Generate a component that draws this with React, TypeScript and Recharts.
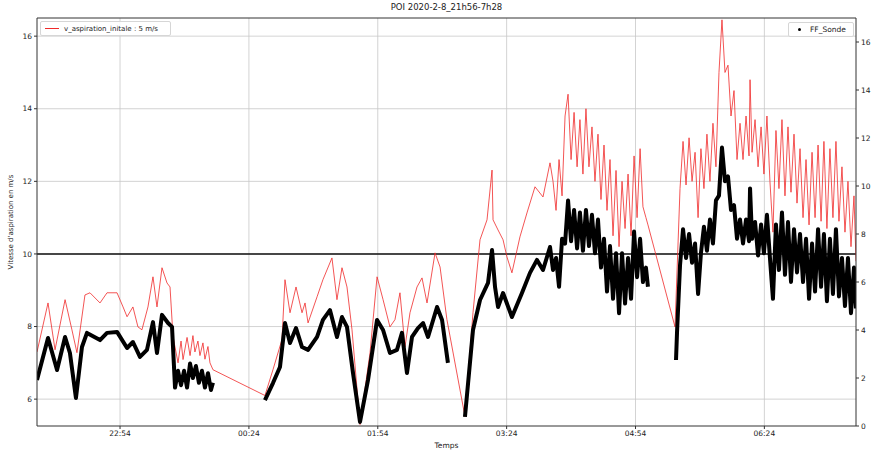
import React from "react";
import {
  ComposedChart,
  Line,
  XAxis,
  YAxis,
  CartesianGrid,
  ReferenceLine,
} from "recharts";

// minutes counted from 21:56
const START_MINUTES = 21 * 60 + 56;
const timeTicks = [58, 148, 238, 328, 418, 508];
const speedTicks = [6, 8, 10, 12, 14, 16];
const sondeTicks = [0, 2, 4, 6, 8, 10, 12, 14, 16];
const speedThreshold = 10;

// v_aspiration_initale (left axis, m/s)
const aspiration: [number, number][] = [
  [0, 7.3], [7.7, 8.65], [12.6, 7.36], [19.6, 8.74], [24.4, 7.91], [27.9, 7.28],
  [33.5, 8.87], [37, 8.93], [44, 8.65], [48.9, 8.93], [55.9, 8.93], [60.1, 8.54],
  [62.9, 8.27], [67, 8.54], [70.5, 7.99], [73.3, 7.91], [77.5, 8.54], [81, 9.37],
  [83.8, 8.54], [87.3, 9.62], [90.8, 9.2], [92.9, 9.09], [95, 7.72], [98.5, 7.0],
  [100.6, 7.6], [102, 7.09], [104.8, 7.7], [106.9, 7.2], [108.9, 7.75],
  [110.3, 7.3], [112.4, 7.6], [113.8, 7.2], [115.9, 7.55], [117.3, 7.1],
  [119.4, 7.45], [120.8, 7.0], [122.9, 6.81],
  [159.2, 6.1], [164.8, 6.81], [171.1, 7.64], [173.2, 9.29], [176.7, 8.38],
  [180.9, 9.09], [185.1, 8.38], [187.2, 8.65], [189.3, 8.1], [195.6, 8.82],
  [199.7, 9.29], [206, 9.89], [209.5, 8.74], [213, 9.62], [216.5, 9.09], [220, 7.91],
  [225.6, 5.3], [232.6, 7.28], [237.5, 9.37], [241.7, 8.74], [246.5, 7.99],
  [250, 8.19], [253.5, 8.93], [257, 7.44], [260.5, 8.38], [265.4, 9.09],
  [268.9, 9.34], [272.4, 8.65], [278, 10.03], [281.5, 9.64], [286.3, 8.19],
  [298.9, 5.52], [304.5, 8.38], [309.4, 10.39], [314.3, 10.94], [317.8, 12.31],
  [318.5, 10.94], [322, 10.66], [325.5, 10.39], [328.2, 9.92], [331.7, 9.48],
  [337.3, 10.47], [342.2, 11.13], [347.8, 11.85], [353.4, 11.57], [358.3, 12.51],
  [360.4, 12.0], [362.5, 11.2], [364.6, 12.6], [366.7, 11.6], [368.8, 13.8],
  [370.9, 14.4], [373.0, 12.6], [375.1, 13.9], [377.2, 12.4], [379.2, 13.7],
  [381.3, 12.2], [383.4, 14.0], [385.5, 12.4], [387.6, 13.5], [389.7, 12.0],
  [391.8, 13.3], [393.9, 11.5], [396.0, 13.0], [398.1, 11.2], [400.2, 12.6],
  [402.3, 10.5], [404.4, 12.3], [406.5, 10.2], [408.6, 12.0], [410.7, 10.7],
  [412.8, 12.2], [414.9, 10.5], [417.0, 12.7], [419.1, 11.0], [421.2, 12.9],
  [423.2, 11.3], [425.3, 11.0], [426.7, 10.8],
  [445.6, 7.99], [449.1, 11.8], [451.2, 13.1], [453.3, 11.9], [455.4, 13.2],
  [457.5, 12.0], [459.6, 12.8], [461.7, 11.0], [463.7, 12.9], [465.8, 11.8],
  [467.9, 13.3], [470.0, 12.0], [472.1, 13.6], [474.2, 12.4], [476.3, 15.0],
  [478.4, 16.45], [480.5, 15.0], [482.6, 15.2], [484.7, 13.8], [486.8, 14.5],
  [488.9, 12.6], [491.0, 13.6], [493.1, 12.6], [495.2, 13.8], [497.3, 12.7],
  [498.0, 14.8], [499.4, 12.8], [501.5, 13.7], [503.6, 12.4], [505.7, 13.5],
  [507.7, 12.2], [509.8, 13.8], [511.9, 12.0], [514.0, 10.6], [516.1, 13.4],
  [518.2, 11.8], [520.3, 13.7], [522.4, 11.6], [524.5, 13.5], [526.6, 11.7],
  [528.7, 13.3], [530.8, 11.4], [532.9, 12.9], [535.0, 11.0], [537.1, 12.6],
  [539.2, 10.8], [541.3, 12.8], [543.4, 11.0], [545.5, 13.0], [547.6, 10.9],
  [549.6, 13.1], [551.7, 10.7], [553.8, 12.9], [555.9, 11.0], [558.0, 13.1],
  [560.1, 10.9], [562.2, 12.4], [564.3, 10.6], [566.4, 12.0], [568.5, 10.2],
  [570.6, 11.6], [572, 9.8],
];

// FF_Sonde (right axis), null = no measurement
const sonde: [number, number | null][] = [
  [0, 1.92], [7.7, 3.67], [14, 2.33], [19.6, 3.71], [23, 3.04], [27.2, 1.17],
  [31.4, 3.29], [34.9, 3.88], [44, 3.58], [48.9, 3.88], [55.9, 3.92], [62.9, 3.25],
  [67, 3.5], [71.9, 2.88], [76.8, 3.17], [81, 4.33], [83.8, 3.04], [87.3, 4.63],
  [91.5, 4.29], [94.3, 4.13], [96.4, 1.6], [98.5, 2.3], [100.6, 1.7], [102.7, 2.3],
  [104.8, 1.6], [106.9, 2.6], [108.9, 2.0], [111.0, 2.5], [113.1, 1.8],
  [115.2, 2.3], [117.3, 1.6], [119.4, 2.2], [121.5, 1.5], [122.9, 1.8],
  [140, null],
  [159.2, 1.08], [164.8, 1.79], [169.7, 2.46], [173.2, 4.29], [176.7, 3.46],
  [180.9, 4.08], [185.1, 3.29], [189.3, 3.17], [195.6, 3.71], [199.7, 4.42],
  [204.6, 4.83], [209.5, 3.71], [213, 4.54], [216.5, 4.13], [220.7, 2.21],
  [225.6, 0.17], [231.2, 1.92], [237.5, 4.42], [241.7, 4.0], [246.5, 3.04],
  [251.4, 3.17], [254.9, 3.88], [258.4, 2.21], [261.9, 3.71], [266.1, 4.08],
  [269.6, 4.29], [273.1, 3.71], [279.4, 4.96], [282.9, 4.42], [287, 2.63],
  [292, null],
  [298.9, 0.38], [304.5, 4.0], [309.4, 5.25], [315, 5.96], [317.8, 7.33],
  [319.9, 5.79], [322, 4.96], [325.5, 5.54], [331.7, 4.54], [338.7, 5.54],
  [344.3, 6.38], [349.2, 6.92], [353.4, 6.5], [358.3, 7.46],
  [360.4, 6.5], [362.5, 7.0], [364.6, 5.8], [366.7, 7.8], [368.8, 7.6],
  [370.9, 9.4], [373.0, 7.7], [375.1, 9.0], [377.2, 7.4], [379.2, 8.9],
  [381.3, 7.3], [383.4, 9.0], [385.5, 7.5], [387.6, 8.8], [389.7, 7.2],
  [391.8, 8.6], [393.9, 6.6], [396.0, 7.8], [398.1, 5.6], [400.2, 7.5],
  [402.3, 5.3], [404.4, 7.2], [406.5, 4.7], [408.6, 7.2], [410.7, 5.1],
  [412.8, 7.0], [414.9, 5.3], [417.0, 8.1], [419.1, 6.2], [421.2, 7.8],
  [423.2, 6.0], [425.3, 6.6], [426.7, 5.8],
  [435, null],
  [446.3, 2.75], [447.0, 3.9], [449.1, 6.7], [451.2, 8.2], [453.3, 7.0],
  [455.4, 8.0], [457.5, 6.8], [459.6, 7.6], [461.7, 5.5], [463.7, 7.2],
  [465.8, 8.3], [467.9, 7.3], [470.0, 8.6], [472.1, 7.6], [474.2, 9.4],
  [476.3, 9.6], [478.4, 11.6], [480.5, 10.2], [482.6, 10.4], [484.7, 9.0],
  [486.8, 9.2], [488.9, 7.8], [491.0, 8.6], [493.1, 7.6], [495.2, 8.6],
  [497.3, 7.7], [498.0, 9.9], [499.4, 7.8], [501.5, 8.5], [503.6, 7.1],
  [505.7, 8.4], [507.7, 7.2], [509.8, 8.8], [511.9, 7.0], [514.0, 5.3],
  [516.1, 8.4], [518.2, 6.5], [520.3, 8.9], [522.4, 6.3], [524.5, 8.5],
  [526.6, 6.0], [528.7, 8.2], [530.8, 6.4], [532.9, 8.0], [535.0, 6.0],
  [537.1, 7.8], [539.2, 5.3], [541.3, 7.6], [543.4, 5.6], [545.5, 8.2],
  [547.6, 5.8], [549.6, 8.0], [551.7, 5.2], [553.8, 7.8], [555.9, 5.5],
  [558.0, 8.2], [560.1, 5.4], [562.2, 7.0], [564.3, 5.0], [566.4, 7.0],
  [568.5, 4.7], [570.6, 6.6], [572, 4.9],
];

const aspirationData = aspiration.map(([t, v]) => ({ t, v }));
const sondeData = sonde.map(([t, ff]) => ({ t, ff }));

const FONT = "DejaVu Sans";
const tickStyle = { fontSize: 7.5, fill: "#222", fontFamily: FONT };

function formatTime(m: number) {
  const total = START_MINUTES + m;
  const h = Math.floor(total / 60) % 24;
  const mm = Math.round(total % 60);
  return `${String(h).padStart(2, "0")}:${String(mm).padStart(2, "0")}`;
}

export default function App() {
  return (
    <div
      style={{
        position: "absolute",
        left: 0,
        top: 0,
        width: 873,
        height: 450,
        background: "#fff",
        fontFamily: FONT,
      }}
    >
      <div
        style={{
          position: "absolute",
          top: 2,
          left: 37,
          width: 819,
          textAlign: "center",
          fontSize: 8.5,
          color: "#222",
        }}
      >
        POI 2020-2-8_21h56-7h28
      </div>
      <ComposedChart
        width={873}
        height={450}
        margin={{ top: 18, right: 0, left: 0, bottom: 0 }}
      >
        <CartesianGrid
          yAxisId="left"
          stroke="#c8c8c8"
          strokeWidth={0.8}
          horizontalValues={speedTicks}
          verticalValues={timeTicks}
        />
        <XAxis
          dataKey="t"
          type="number"
          domain={[0, 572]}
          ticks={timeTicks}
          tickFormatter={formatTime}
          allowDataOverflow
          height={24}
          tickSize={3}
          tick={tickStyle}
          stroke="#333"
          label={{
            value: "Temps",
            position: "insideBottom",
            offset: 2,
            style: { fontSize: 7.5, fill: "#222", fontFamily: FONT },
          }}
        />
        <YAxis
          yAxisId="left"
          type="number"
          domain={[5.26, 16.5]}
          ticks={speedTicks}
          allowDataOverflow
          width={37}
          tickSize={3}
          tick={tickStyle}
          stroke="#333"
          label={{
            value: "Vitesse d'aspiration en m/s",
            angle: -90,
            position: "insideLeft",
            offset: 11,
            style: {
              textAnchor: "middle",
              fontSize: 7,
              fill: "#222",
              fontFamily: FONT,
            },
          }}
        />
        <YAxis
          yAxisId="right"
          orientation="right"
          type="number"
          domain={[0, 17]}
          ticks={sondeTicks}
          allowDataOverflow
          width={17}
          tickSize={3}
          tick={tickStyle}
          stroke="#333"
        />
        <ReferenceLine yAxisId="left" y={16.5} stroke="#333" strokeWidth={1} />
        <ReferenceLine
          yAxisId="left"
          y={speedThreshold}
          stroke="#111"
          strokeWidth={1.4}
        />
        <Line
          yAxisId="left"
          data={aspirationData}
          dataKey="v"
          type="linear"
          stroke="#f02a2a"
          strokeWidth={0.8}
          dot={false}
          isAnimationActive={false}
        />
        <Line
          yAxisId="right"
          data={sondeData}
          dataKey="ff"
          type="linear"
          stroke="#000"
          strokeWidth={4}
          strokeLinejoin="round"
          dot={false}
          connectNulls={false}
          isAnimationActive={false}
        />
      </ComposedChart>
      <div
        style={{
          position: "absolute",
          left: 40,
          top: 21,
          width: 131,
          height: 15,
          border: "1px solid #d6d6d6",
          borderRadius: 2,
          background: "rgba(255,255,255,0.85)",
          boxSizing: "border-box",
          display: "flex",
          alignItems: "center",
          fontSize: 7,
          color: "#222",
        }}
      >
        <span
          style={{
            display: "inline-block",
            width: 14,
            height: 0,
            borderTop: "0.8px solid #f02a2a",
            marginLeft: 4,
            marginRight: 5,
          }}
        />
        v_aspiration_initale : 5 m/s
      </div>
      <div
        style={{
          position: "absolute",
          left: 788,
          top: 22,
          width: 66,
          height: 15,
          border: "1px solid #d6d6d6",
          borderRadius: 2,
          background: "rgba(255,255,255,0.85)",
          boxSizing: "border-box",
          display: "flex",
          alignItems: "center",
          fontSize: 7.5,
          color: "#222",
        }}
      >
        <span
          style={{
            display: "inline-block",
            width: 3,
            height: 3,
            borderRadius: "50%",
            background: "#000",
            marginLeft: 9,
            marginRight: 9,
          }}
        />
        FF_Sonde
      </div>
    </div>
  );
}
